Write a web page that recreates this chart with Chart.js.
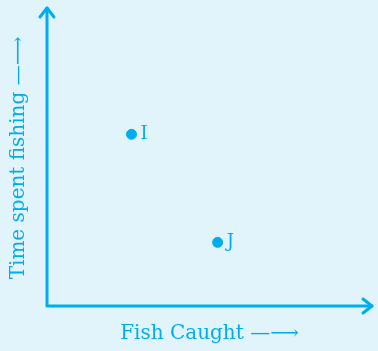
<!DOCTYPE html>
<html>
<head>
<meta charset="utf-8">
<script src="https://cdn.jsdelivr.net/npm/chart.js@4/dist/chart.umd.min.js"></script>
<style>
  html, body { margin: 0; padding: 0; background: #e1f3fb; }
  #wrap { width: 378px; height: 351px; }
</style>
</head>
<body>
<div id="wrap"><canvas id="fishChart" width="378" height="351"></canvas></div>
<script>
const pointNames = ['I', 'J'];
const fishCaught = [2.6, 5.25];
const timeFishing = [5.8, 2.15];
const xTitle = 'Fish Caught \u2014\u27F6';
const yTitle = 'Time spent fishing \u2014\u27F6';

const blue = '#00aeef';
const serif = "'DejaVu Serif', 'Liberation Serif', serif";

// axis lines with arrow heads + point letters
const axesAndLabels = {
  id: 'axesAndLabels',
  afterDatasetsDraw (chart) {
    const ctx = chart.ctx;
    const xs = chart.scales.x, ys = chart.scales.y;
    const x0 = xs.left, y0 = ys.bottom;
    const yTop = ys.top - 2, xEnd = xs.right;
    ctx.save();
    ctx.strokeStyle = blue;
    ctx.lineWidth = 3;
    ctx.lineCap = 'round';
    ctx.lineJoin = 'round';
    ctx.beginPath();
    ctx.moveTo(x0, yTop);
    ctx.lineTo(x0, y0);
    ctx.lineTo(xEnd, y0);
    ctx.stroke();
    ctx.beginPath();
    ctx.moveTo(x0 - 7, yTop + 9);
    ctx.lineTo(x0, yTop);
    ctx.lineTo(x0 + 7, yTop + 9);
    ctx.moveTo(xEnd - 9, y0 - 7);
    ctx.lineTo(xEnd, y0);
    ctx.lineTo(xEnd - 9, y0 + 7);
    ctx.stroke();

    ctx.fillStyle = blue;
    ctx.font = '18px ' + serif;
    ctx.textBaseline = 'middle';
    const meta = chart.getDatasetMeta(0);
    meta.data.forEach((pt, i) => {
      ctx.fillText(pointNames[i], pt.x + 9, pt.y);
    });
    ctx.restore();
  }
};

new Chart(document.getElementById('fishChart'), {
  type: 'scatter',
  data: {
    datasets: [{
      data: fishCaught.map((v, i) => ({ x: v, y: timeFishing[i] })),
      backgroundColor: blue,
      borderColor: blue,
      pointRadius: 5,
      pointHoverRadius: 5
    }]
  },
  options: {
    responsive: false,
    animation: false,
    layout: { padding: { top: 10, right: 2, left: 7, bottom: 5 } },
    plugins: { legend: { display: false }, tooltip: { enabled: false } },
    scales: {
      x: {
        min: 0, max: 10,
        grid: { display: false },
        border: { display: false },
        ticks: { display: false },
        title: { display: true, text: xTitle, color: blue, font: { family: serif, size: 20 }, padding: { top: 8, bottom: 0 } }
      },
      y: {
        min: 0, max: 10,
        grid: { display: false },
        border: { display: false },
        ticks: { display: false },
        title: { display: true, text: yTitle, color: blue, font: { family: serif, size: 20 }, padding: { top: 0, bottom: 8 } }
      }
    }
  },
  plugins: [axesAndLabels]
});
</script>
</body>
</html>
